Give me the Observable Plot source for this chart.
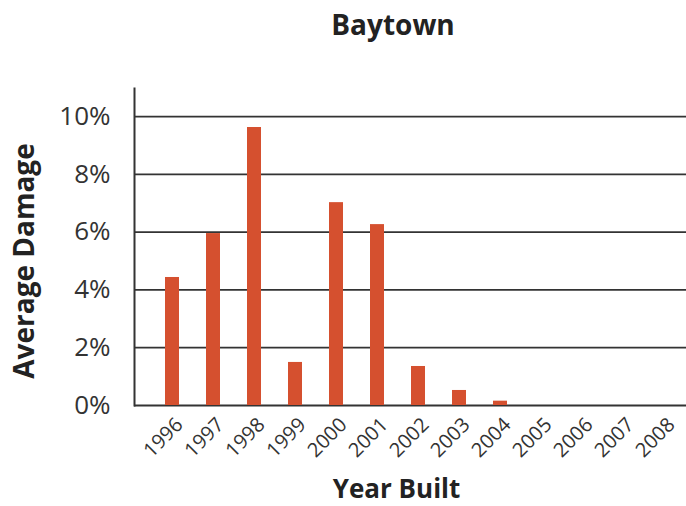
<!DOCTYPE html>
<html>
<head>
<meta charset="utf-8">
<script src="https://cdn.jsdelivr.net/npm/d3@7"></script>
<script src="https://cdn.jsdelivr.net/npm/@observablehq/plot@0.6"></script>
<style>
  html, body { margin: 0; padding: 0; background: #fff; }
  #title { width: 686px; height: 50px; box-sizing: border-box; padding-left: 100px; text-align: center;
    font-family: "Open Sans", sans-serif; font-weight: bold; font-size: 28px; line-height: 48px; color: #222; }
  svg { display: block; }
</style>
</head>
<body>
<div id="title">Baytown</div>
<div id="chart"></div>
<script>
const years = ["1996","1997","1998","1999","2000","2001","2002","2003","2004","2005","2006","2007","2008"];
const damage = [4.43, 5.95, 9.62, 1.49, 7.02, 6.26, 1.35, 0.52, 0.15, 0, 0, 0, 0];
const yTicks = [0, 2, 4, 6, 8, 10];

const data = years.map((y, i) => ({year: y, value: damage[i]}));
const font = "Open Sans, sans-serif";

const chart = Plot.plot({
  width: 686,
  height: 456,
  marginTop: 38,
  marginBottom: 101,
  marginLeft: 134,
  marginRight: 0,
  style: {fontFamily: font, background: "#fff"},
  x: {domain: years, range: [165, 671], paddingInner: 0.66, paddingOuter: 0, axis: null},
  y: {domain: [0, 10.97], axis: null},
  marks: [
    Plot.ruleY(yTicks, {stroke: "#333", strokeWidth: 1.8}),
    Plot.frame({anchor: "left", stroke: "#333", strokeWidth: 2}),
    Plot.barY(data, {x: "year", y: "value", fill: "#d5502f"}),
    Plot.text(yTicks, {x: null, y: d => d, text: d => d + "%", frameAnchor: "left", textAnchor: "end", lineAnchor: "middle", dx: -24, fontSize: 26, fill: "#333"}),
    Plot.text(years, {x: d => d, y: 0, text: d => d, rotate: -45, textAnchor: "end", lineAnchor: "middle", dx: 7, dy: 16, fontSize: 20, fill: "#333"}),
    Plot.text(["Average Damage"], {frameAnchor: "left", rotate: -90, textAnchor: "middle", lineAnchor: "middle", dx: -109, dy: 14, fontSize: 28, fontWeight: "bold", fill: "#222"}),
    Plot.text(["Year Built"], {frameAnchor: "bottom", textAnchor: "middle", lineAnchor: "middle", dx: -14, dy: 84, fontSize: 26, fontWeight: "bold", fill: "#222"})
  ]
});
document.getElementById("chart").appendChild(chart);
</script>
</body>
</html>
